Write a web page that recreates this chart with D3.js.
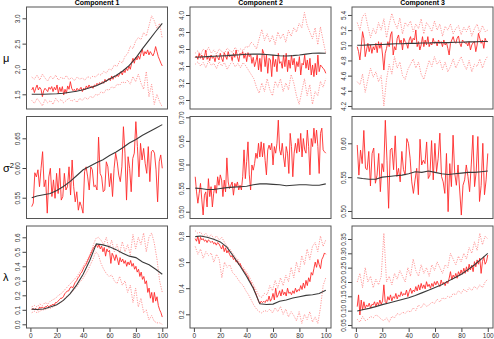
<!DOCTYPE html>
<html>
<head>
<meta charset="utf-8">
<script src="https://cdn.jsdelivr.net/npm/d3@7"></script>
<style>
  body { margin: 0; background: #fff; }
  svg { display: block; font-family: "Liberation Sans", Arial, sans-serif; }
</style>
</head>
<body>
<div id="chart"></div>
<script>
// ---- data ----
const colTitles = ["Component 1", "Component 2", "Component 3"];
const rowLabels = ["μ", "σ", "λ"];
const xTicks = [0, 20, 40, 60, 80, 100];
const blackX = [1, 5, 10, 15, 20, 25, 30, 35, 40, 45, 50, 55, 60, 65, 70, 75, 80, 85, 90, 95, 100];

const muTicks1 = [1.5, 2.0, 2.5, 3.0];
const muTicks2 = [3.0, 3.2, 3.4, 3.6, 3.8, 4.0];
const muTicks3 = [4.2, 4.4, 4.6, 4.8, 5.0, 5.2, 5.4];
const sigTicks1 = [0.55, 0.60, 0.65];
const sigTicks2 = [0.50, 0.55, 0.60, 0.65, 0.70];
const sigTicks3 = [0.50, 0.55, 0.60];
const lamTicks1 = [0.0, 0.1, 0.2, 0.3, 0.4, 0.5, 0.6];
const lamTicks2 = [0.2, 0.4, 0.6, 0.8];
const lamTicks3 = [0.05, 0.10, 0.15, 0.20, 0.25, 0.30, 0.35];

// component 1, mu
const muBlack1 = [1.50,1.50,1.50,1.505,1.51,1.52,1.54,1.56,1.59,1.63,1.67,1.73,1.80,1.87,1.96,2.07,2.22,2.40,2.57,2.74,2.90];
const muRed1 = [1.586,1.638,1.533,1.619,1.684,1.586,1.638,1.599,1.454,1.572,1.619,1.586,1.553,1.638,1.599,1.652,1.553,1.638,1.586,1.684,
  1.520,1.638,1.553,1.652,1.487,1.599,1.520,1.665,1.599,1.750,1.619,1.572,1.599,1.553,1.619,1.586,1.599,1.638,1.553,1.619,
  1.586,1.665,1.619,1.684,1.638,1.665,1.619,1.684,1.665,1.717,1.684,1.731,1.704,1.750,1.717,1.796,1.750,1.783,1.816,1.770,
  1.862,1.796,1.862,1.836,1.882,1.849,1.902,1.948,1.882,1.981,1.928,2.014,1.968,2.060,1.994,2.113,2.211,2.113,2.231,2.179,
  2.258,2.192,2.310,2.389,2.258,2.343,2.297,2.376,2.277,2.343,2.297,2.258,2.323,2.442,2.343,2.244,2.179,2.113,2.060];
const muUp1 = [1.84,1.80,1.88,1.78,1.90,1.82,1.76,1.86,1.80,1.88,1.78,1.84,1.80,1.87,1.79,1.83,1.77,1.84,1.80,1.82,
  1.78,1.85,1.82,1.86,1.84,1.90,1.88,1.95,1.92,2.00,1.98,2.08,2.05,2.15,2.12,2.25,2.30,2.45,2.40,2.55,
  2.62,2.58,2.72,2.65,2.85,3.05,2.95,2.80,2.90,2.60];
const muLo1 = [1.38,1.32,1.42,1.35,1.27,1.40,1.33,1.38,1.30,1.42,1.35,1.40,1.33,1.38,1.42,1.36,1.40,1.34,1.42,1.38,
  1.44,1.40,1.46,1.43,1.50,1.48,1.55,1.52,1.60,1.58,1.65,1.62,1.70,1.68,1.75,1.72,1.78,1.70,1.85,1.75,
  1.90,1.72,1.60,1.95,1.45,1.70,1.30,1.50,1.35,1.25];

// component 2, mu
const muBlack2 = [3.502,3.505,3.51,3.515,3.518,3.522,3.528,3.533,3.538,3.541,3.54,3.535,3.528,3.52,3.518,3.522,3.53,3.54,3.55,3.553,3.55];
const muRed2 = [3.502,3.518,3.478,3.549,3.490,3.529,3.471,3.510,3.588,3.478,3.518,3.463,3.529,3.490,3.510,3.451,3.529,3.502,3.471,3.549,
  3.490,3.451,3.557,3.518,3.478,3.569,3.510,3.529,3.463,3.549,3.502,3.588,3.510,3.451,3.549,3.529,3.569,3.490,3.549,3.451,
  3.557,3.510,3.541,3.431,3.502,3.392,3.451,3.529,3.353,3.490,3.333,3.596,3.549,3.392,3.529,3.314,3.490,3.471,3.275,3.529,
  3.392,3.478,3.333,3.549,3.431,3.451,3.373,3.529,3.392,3.549,3.333,3.471,3.373,3.529,3.412,3.490,3.333,3.451,3.392,3.510,
  3.294,3.431,3.412,3.529,3.373,3.471,3.353,3.490,3.294,3.412,3.275,3.431,3.294,3.529,3.333,3.412,3.392,3.373,3.353,3.314];
const muUp2 = [3.55,3.58,3.53,3.60,3.56,3.62,3.55,3.59,3.54,3.60,3.57,3.55,3.61,3.58,3.56,3.62,3.57,3.60,3.58,3.63,
  3.62,3.68,3.65,3.60,3.72,3.83,3.70,3.78,3.68,3.76,3.65,3.80,3.72,3.78,3.68,3.82,3.75,3.85,3.80,3.90,
  3.85,4.03,3.88,3.80,3.72,3.85,3.65,3.86,3.70,3.55];
const muLo2 = [3.42,3.45,3.40,3.44,3.38,3.46,3.41,3.43,3.37,3.45,3.40,3.44,3.36,3.42,3.45,3.39,3.43,3.38,3.44,3.40,
  3.35,3.30,3.25,3.15,3.08,3.20,3.10,3.25,3.12,3.05,3.22,3.15,3.25,3.10,3.20,3.12,3.30,3.20,3.05,2.95,
  3.10,3.25,3.05,3.18,2.95,3.10,3.05,3.22,3.15,3.25];

// component 3, mu
const muBlack3 = [5.00,5.00,5.005,5.01,5.01,5.015,5.02,5.02,5.025,5.025,5.03,5.03,5.035,5.035,5.035,5.04,5.04,5.045,5.045,5.05,5.05];
const muRed3 = [4.982,4.916,4.806,4.982,5.180,5.092,4.850,4.938,5.026,4.916,5.004,4.894,4.982,4.938,5.026,4.903,5.048,4.960,5.035,4.872,
  4.674,4.894,4.960,5.048,4.982,5.136,5.180,4.872,4.982,4.938,5.092,5.136,5.026,5.070,4.938,5.092,5.048,5.026,4.960,5.070,
  5.114,5.026,5.092,5.070,5.202,4.982,5.048,4.938,5.004,5.114,4.982,5.070,5.004,5.114,4.982,5.035,5.004,5.092,5.026,5.048,
  4.991,5.070,5.026,5.048,4.982,5.070,5.004,5.035,4.960,4.872,5.026,5.070,5.114,5.048,5.026,5.092,5.123,5.026,4.982,5.070,
  5.048,5.026,5.035,4.991,5.048,4.938,5.004,5.035,5.048,4.916,5.004,5.158,5.092,5.026,5.070,4.960,5.092,5.048,5.048];
const muUp3 = [5.30,5.20,5.38,5.42,5.25,5.10,5.22,5.15,5.30,5.20,5.35,5.10,5.28,5.42,5.30,5.22,5.36,5.15,5.30,5.25,
  5.32,5.18,5.28,5.22,5.35,5.15,5.30,5.25,5.18,5.32,5.20,5.28,5.12,5.25,5.20,5.28,5.15,5.22,5.26,5.14,
  5.24,5.18,5.26,5.12,5.22,5.28,5.16,5.26,5.18,5.20];
const muLo3 = [4.52,4.48,4.62,4.38,4.55,4.70,4.58,4.65,4.52,4.60,4.20,4.55,4.75,4.62,4.85,4.70,4.78,4.60,4.55,4.68,
  4.75,4.82,4.70,4.78,4.62,4.55,4.68,4.80,4.72,4.85,4.75,4.80,4.68,4.78,4.65,4.72,4.82,4.70,4.78,4.85,
  4.75,4.68,4.80,4.65,4.75,4.72,4.82,4.70,4.80,4.86];

// sigma^2
const sigBlack1 = [0.550,0.553,0.555,0.557,0.562,0.569,0.577,0.587,0.597,0.603,0.609,0.614,0.621,0.627,0.634,0.642,0.648,0.655,0.661,0.667,0.673];
const sigRed1 = [0.535,0.541,0.592,0.585,0.597,0.5685,0.5995,0.6275,0.5685,0.580,0.524,0.585,0.5995,0.552,0.580,0.549,0.591,0.557,0.5995,0.546,
  0.552,0.591,0.563,0.5685,0.602,0.5545,0.6135,0.5685,0.543,0.560,0.529,0.543,0.535,0.524,0.594,0.602,0.585,0.563,0.602,0.597,
  0.5685,0.571,0.563,0.652,0.591,0.585,0.560,0.563,0.6105,0.602,0.5685,0.591,0.552,0.5995,0.625,0.6105,0.588,0.577,0.602,0.6695,
  0.625,0.546,0.619,0.5995,0.560,0.616,0.625,0.678,0.636,0.585,0.6415,0.6135,0.633,0.608,0.591,0.636,0.577,0.6275,0.630,0.625,
  0.597,0.543,0.6105,0.622,0.5995];
const sigBlack2 = [0.550,0.549,0.547,0.547,0.549,0.551,0.552,0.553,0.554,0.557,0.559,0.559,0.558,0.557,0.555,0.556,0.557,0.557,0.556,0.556,0.559];
const sigRed2 = [0.574,0.542,0.518,0.539,0.560,0.525,0.493,0.535,0.542,0.510,0.570,0.532,0.553,0.510,0.539,0.556,0.539,0.574,0.556,0.578,
  0.567,0.532,0.567,0.542,0.614,0.563,0.549,0.556,0.563,0.535,0.560,0.553,0.563,0.546,0.556,0.546,0.574,0.631,0.570,0.606,
  0.648,0.578,0.546,0.599,0.588,0.602,0.624,0.613,0.645,0.616,0.648,0.616,0.645,0.609,0.578,0.631,0.641,0.631,0.645,0.599,
  0.638,0.624,0.645,0.694,0.631,0.620,0.645,0.616,0.595,0.638,0.624,0.581,0.666,0.638,0.574,0.624,0.645,0.624,0.655,0.627,
  0.666,0.616,0.655,0.631,0.624,0.673,0.638,0.578,0.655,0.638,0.677,0.645,0.673,0.638,0.581,0.666,0.677,0.631,0.627,0.624];
const sigBlack3 = [0.549,0.548,0.547,0.547,0.550,0.551,0.552,0.553,0.555,0.558,0.557,0.559,0.557,0.555,0.554,0.555,0.556,0.557,0.557,0.558,0.559];
const sigRed3 = [0.5975,0.553,0.590,0.570,0.619,0.563,0.561,0.588,0.537,0.585,0.593,0.541,0.553,0.585,0.5285,0.570,0.558,0.634,0.575,0.504,
  0.590,0.593,0.561,0.611,0.551,0.563,0.543,0.588,0.561,0.553,0.607,0.600,0.578,0.543,0.526,0.546,0.563,0.524,0.606,0.568,
  0.575,0.570,0.602,0.548,0.553,0.604,0.546,0.600,0.558,0.578,0.615,0.551,0.543,0.526,0.585,0.499,0.570,0.536,0.612,0.556,
  0.538,0.568,0.531,0.494,0.538,0.546,0.568,0.551,0.5285,0.568,0.612,0.536,0.558,0.610,0.514,0.538,0.600,0.524,0.546,0.585];

// lambda
const lamBlack1 = [0.105,0.102,0.105,0.12,0.135,0.165,0.21,0.27,0.345,0.44,0.555,0.548,0.535,0.515,0.49,0.47,0.46,0.43,0.41,0.38,0.345];
const lamRed1 = [0.10,0.11,0.10,0.11,0.10,0.10,0.12,0.11,0.12,0.11,0.12,0.12,0.13,0.12,0.13,0.13,0.14,0.13,0.15,0.15,
  0.16,0.17,0.18,0.18,0.19,0.21,0.22,0.23,0.23,0.25,0.26,0.25,0.27,0.29,0.30,0.32,0.33,0.35,0.36,0.38,
  0.40,0.41,0.43,0.45,0.47,0.49,0.51,0.53,0.54,0.55,0.53,0.55,0.52,0.54,0.50,0.53,0.47,0.52,0.50,0.51,
  0.42,0.49,0.47,0.44,0.48,0.45,0.41,0.46,0.43,0.45,0.42,0.44,0.40,0.43,0.41,0.44,0.40,0.42,0.38,0.40,
  0.36,0.38,0.33,0.36,0.31,0.33,0.28,0.30,0.22,0.25,0.18,0.22,0.15,0.22,0.16,0.19,0.13,0.10,0.08,0.05];
const lamUp1 = [0.12,0.13,0.12,0.14,0.13,0.15,0.14,0.16,0.17,0.18,0.20,0.21,0.23,0.25,0.27,0.29,0.31,0.33,0.36,0.39,
  0.42,0.45,0.49,0.54,0.59,0.60,0.58,0.55,0.60,0.52,0.58,0.50,0.55,0.49,0.57,0.50,0.55,0.48,0.62,0.52,
  0.60,0.55,0.63,0.50,0.60,0.63,0.56,0.45,0.30,0.22];
const lamLo1 = [0.08,0.09,0.08,0.09,0.10,0.10,0.11,0.11,0.12,0.13,0.14,0.15,0.17,0.19,0.20,0.22,0.24,0.26,0.29,0.31,
  0.34,0.37,0.41,0.45,0.50,0.48,0.42,0.38,0.35,0.33,0.34,0.30,0.28,0.33,0.27,0.30,0.22,0.27,0.15,0.25,
  0.12,0.18,0.08,0.10,0.03,0.06,0.02,0.01,0.01,0.00];

const lamBlack2 = [0.795,0.80,0.79,0.775,0.755,0.715,0.645,0.57,0.49,0.40,0.28,0.275,0.278,0.30,0.31,0.325,0.335,0.345,0.35,0.36,0.385];
const lamRed2 = [0.78,0.76,0.80,0.74,0.79,0.77,0.78,0.76,0.77,0.75,0.77,0.76,0.75,0.76,0.74,0.75,0.73,0.75,0.74,0.72,
  0.70,0.73,0.68,0.71,0.67,0.69,0.66,0.64,0.65,0.62,0.63,0.60,0.61,0.58,0.59,0.56,0.55,0.53,0.52,0.50,
  0.49,0.46,0.45,0.42,0.41,0.38,0.36,0.33,0.30,0.28,0.30,0.29,0.30,0.29,0.31,0.30,0.34,0.30,0.32,0.36,
  0.31,0.40,0.33,0.35,0.38,0.34,0.39,0.35,0.37,0.34,0.40,0.36,0.37,0.35,0.38,0.36,0.40,0.37,0.39,0.38,
  0.42,0.39,0.44,0.40,0.46,0.42,0.48,0.45,0.52,0.50,0.55,0.60,0.56,0.62,0.58,0.55,0.62,0.64,0.67,0.66];
const lamUp2 = [0.84,0.82,0.83,0.80,0.82,0.79,0.81,0.78,0.80,0.77,0.79,0.75,0.72,0.70,0.67,0.64,0.62,0.58,0.56,0.53,
  0.50,0.46,0.42,0.38,0.34,0.33,0.36,0.35,0.42,0.38,0.46,0.40,0.48,0.42,0.50,0.45,0.56,0.48,0.60,0.52,
  0.65,0.58,0.70,0.62,0.72,0.75,0.68,0.80,0.72,0.77];
const lamLo2 = [0.72,0.66,0.70,0.63,0.68,0.65,0.67,0.60,0.66,0.62,0.48,0.60,0.56,0.58,0.52,0.50,0.47,0.44,0.42,0.38,
  0.35,0.31,0.27,0.24,0.22,0.21,0.23,0.22,0.24,0.21,0.25,0.22,0.26,0.20,0.24,0.18,0.22,0.19,0.15,0.22,
  0.13,0.20,0.16,0.22,0.14,0.18,0.13,0.25,0.42,0.48];

const lamBlack3 = [0.099,0.103,0.108,0.114,0.121,0.127,0.133,0.139,0.145,0.153,0.162,0.171,0.181,0.19,0.203,0.215,0.227,0.243,0.26,0.28,0.30];
const lamRed3 = [0.114,0.155,0.085,0.137,0.102,0.131,0.108,0.120,0.114,0.126,0.110,0.122,0.120,0.131,0.114,0.129,0.120,0.137,0.122,0.134,
  0.190,0.131,0.126,0.149,0.137,0.155,0.134,0.149,0.143,0.160,0.141,0.155,0.149,0.166,0.152,0.160,0.155,0.172,0.149,0.166,
  0.178,0.160,0.172,0.166,0.184,0.169,0.190,0.172,0.195,0.178,0.190,0.176,0.201,0.184,0.192,0.178,0.195,0.184,0.201,0.190,
  0.203,0.192,0.184,0.207,0.192,0.199,0.187,0.203,0.195,0.213,0.236,0.207,0.224,0.215,0.230,0.213,0.236,0.224,0.242,0.227,
  0.248,0.230,0.253,0.236,0.262,0.242,0.259,0.236,0.271,0.253,0.277,0.262,0.283,0.230,0.271,0.288,0.262,0.271,0.294];
const lamUp3 = [0.20,0.23,0.18,0.25,0.20,0.22,0.18,0.21,0.19,0.22,0.37,0.20,0.22,0.19,0.23,0.21,0.24,0.22,0.20,0.25,
  0.22,0.28,0.24,0.22,0.26,0.23,0.25,0.22,0.26,0.24,0.27,0.25,0.23,0.26,0.25,0.30,0.28,0.26,0.29,0.27,
  0.30,0.28,0.32,0.30,0.34,0.31,0.37,0.33,0.36,0.35];
const lamLo3 = [0.07,0.06,0.08,0.065,0.07,0.08,0.075,0.085,0.08,0.07,0.065,0.075,0.06,0.08,0.075,0.09,0.085,0.095,0.09,0.10,
  0.095,0.11,0.10,0.12,0.11,0.125,0.115,0.12,0.13,0.125,0.14,0.13,0.145,0.14,0.15,0.145,0.16,0.155,0.17,0.16,
  0.175,0.165,0.18,0.17,0.185,0.175,0.19,0.18,0.20,0.21];

// ---- layout ----
const width = 494, height = 339;
const colLeft = [26.5, 190, 352], rowTop = [7, 116.5, 226];
const pw = 141, ph = 102;

const panels = [
  {row: 0, col: 0, dom: [1.21, 3.223], ticks: muTicks1, fmt: ".1f", black: muBlack1, red: muRed1, up: muUp1, lo: muLo1},
  {row: 0, col: 1, dom: [2.894, 4.094], ticks: muTicks2, fmt: ".1f", black: muBlack2, red: muRed2, up: muUp2, lo: muLo2},
  {row: 0, col: 2, dom: [4.16, 5.505], ticks: muTicks3, fmt: ".1f", black: muBlack3, red: muRed3, up: muUp3, lo: muLo3},
  {row: 1, col: 0, dom: [0.515, 0.6867], ticks: sigTicks1, fmt: ".2f", black: sigBlack1, red: sigRed1},
  {row: 1, col: 1, dom: [0.4856, 0.7017], ticks: sigTicks2, fmt: ".2f", black: sigBlack2, red: sigRed2},
  {row: 1, col: 2, dom: [0.4889, 0.6396], ticks: sigTicks3, fmt: ".2f", black: sigBlack3, red: sigRed3},
  {row: 2, col: 0, dom: [-0.0255, 0.678], ticks: lamTicks1, fmt: ".1f", black: lamBlack1, red: lamRed1, up: lamUp1, lo: lamLo1},
  {row: 2, col: 1, dom: [0.095, 0.8766], ticks: lamTicks2, fmt: ".1f", black: lamBlack2, red: lamRed2, up: lamUp2, lo: lamLo2},
  {row: 2, col: 2, dom: [0.0395, 0.3953], ticks: lamTicks3, fmt: ".2f", black: lamBlack3, red: lamRed3, up: lamUp3, lo: lamLo3}
];

const svg = d3.select("#chart").append("svg")
    .attr("width", width)
    .attr("height", height);

svg.append("rect").attr("width", width).attr("height", height).attr("fill", "#fff");

// spread a series evenly over x = 1..100
function spread(arr) {
    return arr.map((v, i) => ({x: 1 + i * 99 / (arr.length - 1), y: v}));
}

panels.forEach((p, k) => {
    const g = svg.append("g")
        .attr("transform", "translate(" + colLeft[p.col] + "," + rowTop[p.row] + ")");

    const x = d3.scaleLinear().domain([1 - 0.04 * 99, 100 + 0.04 * 99]).range([0, pw]);
    const y = d3.scaleLinear().domain(p.dom).range([ph, 0]);

    g.append("clipPath").attr("id", "clip" + k)
      .append("rect").attr("width", pw).attr("height", ph);

    const plot = g.append("g").attr("clip-path", "url(#clip" + k + ")");
    const line = d3.line().x(d => x(d.x)).y(d => y(d.y));

    if (p.up) {
        [p.up, p.lo].forEach(s => {
            plot.append("path")
                .datum(spread(s))
                .attr("d", line)
                .attr("fill", "none")
                .attr("stroke", "#ff8c8c")
                .attr("stroke-width", 0.9)
                .attr("stroke-dasharray", "1.2,1.3");
        });
    }

    plot.append("path")
        .datum(spread(p.red))
        .attr("d", line)
        .attr("fill", "none")
        .attr("stroke", "#ff2a2a")
        .attr("stroke-width", 0.9)
        .attr("stroke-linejoin", "round");

    plot.append("path")
        .datum(p.black.map((v, i) => ({x: blackX[i], y: v})))
        .attr("d", line)
        .attr("fill", "none")
        .attr("stroke", "#3a3a3a")
        .attr("stroke-width", 1.1);

    // left axis, R style rotated labels
    const ya = g.append("g")
        .call(d3.axisLeft(y).tickValues(p.ticks).tickSize(4).tickFormat(d3.format(p.fmt)));
    ya.select(".domain").remove();
    ya.selectAll("line").attr("stroke", "#444");
    ya.selectAll("text")
        .attr("x", null).attr("dy", null)
        .attr("transform", "translate(-9,0) rotate(-90)")
        .attr("text-anchor", "middle")
        .attr("dominant-baseline", "central")
        .attr("fill", "#333")
        .style("font-size", "6.5px")
        .style("font-family", "'Liberation Sans', Arial, sans-serif");

    if (p.row === 2) {
        const xa = g.append("g")
            .attr("transform", "translate(0," + ph + ")")
            .call(d3.axisBottom(x).tickValues(xTicks).tickSize(4).tickPadding(1.5));
        xa.select(".domain").remove();
        xa.selectAll("line").attr("stroke", "#444");
        xa.selectAll("text")
            .attr("fill", "#333")
            .style("font-size", "6.5px")
            .style("font-family", "'Liberation Sans', Arial, sans-serif");
    }

    g.append("rect")
        .attr("width", pw).attr("height", ph)
        .attr("fill", "none")
        .attr("stroke", "#555")
        .attr("stroke-width", 1);
});

// column titles
svg.selectAll(".title")
    .data(colTitles)
    .enter()
    .append("text")
        .attr("x", (d, i) => colLeft[i] + pw / 2)
        .attr("y", 5)
        .attr("text-anchor", "middle")
        .style("font-size", "7px")
        .style("font-weight", "bold")
        .text(d => d);

// row labels
rowLabels.forEach((d, i) => {
    const t = svg.append("text")
        .attr("x", 3)
        .attr("y", rowTop[i] + ph / 2 + 4)
        .attr("fill", "#000")
        .style("font-size", "11px")
        .text(d);
    if (i === 1) {
        t.append("tspan").attr("dy", -4).style("font-size", "7.5px").text("2");
    }
});
</script>
</body>
</html>
